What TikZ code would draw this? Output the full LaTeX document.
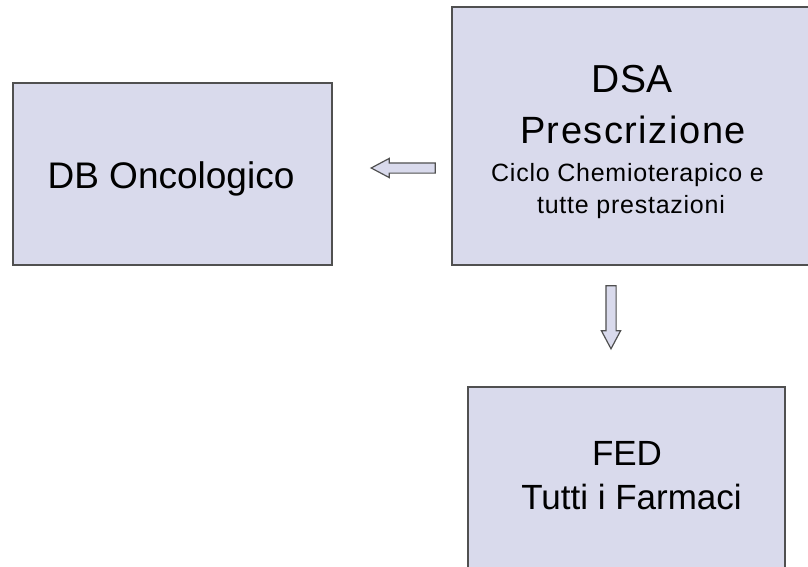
\documentclass[tikz,border=0pt]{standalone}
\usepackage{fontspec}
\setmainfont{Liberation Sans}
\newfontfamily\spacedA[LetterSpace=4]{Liberation Sans}
\newfontfamily\spacedB[LetterSpace=3]{Liberation Sans}
\usetikzlibrary{shapes.arrows,calc}
\definecolor{boxfill}{HTML}{D9DAEC}
\definecolor{boxline}{HTML}{505050}
\begin{document}
\begin{tikzpicture}[x=1pt,y=-1pt,
  box/.style={draw=boxline, line width=2pt, fill=boxfill, rectangle, inner sep=0pt},
  txt/.style={anchor=base, inner sep=0pt, text=black},
  fatarrow/.style={single arrow, draw=boxline, fill=boxfill, line width=1.2pt,
    inner sep=4.5pt, single arrow head extend=4.5pt, single arrow tip angle=56,
    single arrow head indent=0pt}]
\useasboundingbox (0,0) rectangle (808,567);
% boxes
\node[box, minimum width=319pt, minimum height=182pt] (db) at (172.5,174) {};
\node[box, minimum width=358pt, minimum height=258pt] (dsa) at (631,136) {};
\node[box, minimum width=317pt, minimum height=213pt] (fed) at (626.5,493.5) {};
% texts
\node[txt, font=\fontsize{37}{44}\selectfont] (dbt) at ($(db.center)+(-1.5,14)$) {DB Oncologico};
\node[txt, font=\fontsize{39}{46}\selectfont] (dsat) at ($(dsa.center)+(1,-43)$) {DSA};
\node[txt, font=\spacedA\fontsize{38}{44}\selectfont] (prt) at ($(dsa.center)+(2,7)$) {Prescrizione};
\node[txt, font=\spacedB\fontsize{25}{30}\selectfont] (cit) at ($(dsa.center)+(-3.5,45)$) {Ciclo Chemioterapico e};
\node[txt, font=\spacedB\fontsize{25}{30}\selectfont] (tpt) at ($(dsa.center)+(0,77)$) {tutte prestazioni};
\node[txt, font=\fontsize{35}{42}\selectfont] (fedt) at ($(fed.north)+(0.5,79)$) {FED};
\node[txt, font=\fontsize{35}{42}\selectfont] (tft) at ($(fed.north)+(5,123)$) {Tutti i Farmaci};
% arrows
\node[fatarrow, minimum height=64pt, shape border rotate=180] (arl) at ($(db.east)+(75,-6)$) {};
\node[fatarrow, minimum height=63pt, shape border rotate=270] (ard) at ($(dsa.south)+(-20,46.5)$) {};
\end{tikzpicture}
\end{document}
